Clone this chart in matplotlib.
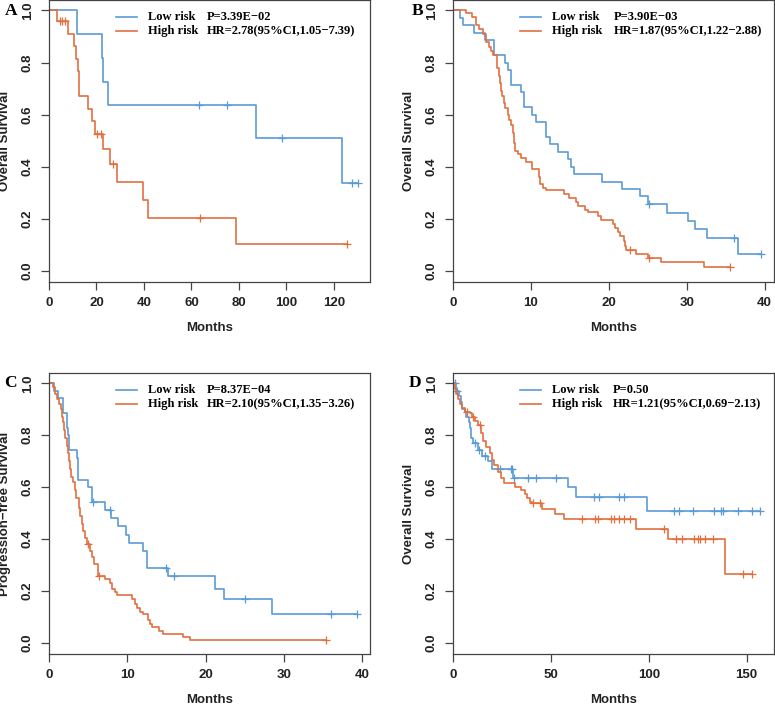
import matplotlib
matplotlib.use('Agg')
import matplotlib.pyplot as plt
import numpy as np

# ---- data ----
# A: overall survival
A_low_t = [11.9, 22.2, 22.6, 25.0, 87.0, 123.6]
A_low_s = [0.909, 0.818, 0.727, 0.636, 0.509, 0.339]
A_low_c = [63.0, 75.0, 98.0, 127.6, 130.2]
A_high_t = [3.2, 8.1, 10.5, 11.4, 12.1, 12.8, 16.6, 18.0, 19.4, 22.9, 25.7, 28.5, 39.8, 41.9, 78.8]
A_high_s = [0.959, 0.91, 0.862, 0.815, 0.767, 0.67, 0.622, 0.575, 0.527, 0.467, 0.41, 0.341, 0.273, 0.205, 0.102]
A_high_c = [4.6, 5.6, 6.7, 20.2, 22.0, 27.0, 63.4, 125.5]

# B: overall survival
B_low_t = [0.9, 1.3, 2.7, 4.1, 5.2, 6.7, 7.0, 7.4, 8.7, 9.1, 10.1, 10.7, 11.9, 12.5, 13.5, 14.7,
           15.1, 15.5, 19.1, 21.7, 24.0, 25.0, 27.5, 30.2, 31.1, 32.6, 36.6]
B_low_s = [0.971, 0.943, 0.914, 0.886, 0.829, 0.8, 0.771, 0.714, 0.686, 0.629, 0.6, 0.571, 0.514, 0.486,
           0.457, 0.429, 0.4, 0.371, 0.343, 0.314, 0.286, 0.257, 0.224, 0.192, 0.16, 0.128, 0.064]
B_low_c = [25.2, 36.1, 39.5]
B_high_t = [1.7, 2.4, 3.0, 3.4, 3.85, 4.3, 4.6, 4.9, 5.1, 5.6, 5.7, 5.9, 6.0, 6.1, 6.3, 6.5, 6.7, 7.0,
            7.2, 7.5, 7.7, 7.8, 8.0, 8.3, 8.7, 9.4, 10.1, 11.0, 11.2, 11.6, 11.9, 14.3, 14.9, 15.8, 16.0,
            16.9, 17.3, 18.6, 19.0, 20.5, 20.8, 21.2, 21.4, 21.9, 22.1, 22.2, 23.5, 25.0, 26.7, 32.2]
B_high_s = [0.99, 0.975, 0.943, 0.927, 0.91, 0.88, 0.86, 0.845, 0.83, 0.81, 0.78, 0.75, 0.72, 0.69, 0.67,
            0.645, 0.625, 0.6, 0.58, 0.56, 0.53, 0.49, 0.46, 0.45, 0.435, 0.42, 0.39, 0.36, 0.335, 0.32,
            0.31, 0.295, 0.28, 0.265, 0.25, 0.235, 0.225, 0.21, 0.195, 0.18, 0.165, 0.15, 0.135, 0.115,
            0.095, 0.08, 0.065, 0.05, 0.033, 0.016]
B_high_c = [22.7, 25.2, 35.6]

# C: progression-free survival
C_low_t = [0.7, 1.2, 1.75, 2.25, 2.45, 2.6, 3.55, 3.65, 5.0, 5.5, 7.15, 7.9, 8.85, 9.8, 10.25, 11.95,
           12.5, 15.2, 21.2, 22.3, 28.5]
C_low_s = [0.971, 0.943, 0.886, 0.829, 0.8, 0.743, 0.714, 0.629, 0.6, 0.543, 0.514, 0.48, 0.45, 0.418,
           0.386, 0.354, 0.289, 0.257, 0.21, 0.169, 0.113]
C_low_c = [5.6, 7.8, 15.0, 16.0, 25.1, 36.0, 39.4]
C_high_t = [0.47, 0.77, 1.0, 1.3, 1.5, 1.6, 1.75, 1.9, 2.1, 2.25, 2.4, 2.5, 2.7, 2.8, 3.1, 3.3, 3.5, 3.8,
            3.95, 4.2, 4.4, 4.6, 4.9, 5.2, 5.5, 5.8, 6.2, 6.3, 7.15, 7.8, 8.1, 8.4, 8.65, 10.55, 11.0,
            11.3, 11.6, 12.0, 12.6, 12.9, 13.2, 14.1, 14.6, 17.1, 18.0]
C_high_s = [0.985, 0.96, 0.94, 0.92, 0.9, 0.87, 0.85, 0.82, 0.79, 0.76, 0.73, 0.7, 0.67, 0.64, 0.62, 0.59,
            0.56, 0.52, 0.49, 0.46, 0.43, 0.405, 0.38, 0.355, 0.33, 0.305, 0.28, 0.26, 0.245, 0.23, 0.21,
            0.195, 0.185, 0.17, 0.15, 0.135, 0.12, 0.11, 0.09, 0.075, 0.06, 0.048, 0.035, 0.024, 0.012]
C_high_c = [5.0, 6.4, 35.4]

# D: overall survival
D_low_t = [1.7, 2.9, 3.9, 4.6, 6.0, 6.8, 8.0, 8.7, 9.4, 10.2, 12.8, 15.0, 17.9, 19.9, 30.6, 58.7, 62.9, 99.0]
D_low_s = [0.97, 0.95, 0.93, 0.9, 0.89, 0.87, 0.85, 0.83, 0.79, 0.77, 0.745, 0.72, 0.70, 0.67, 0.636,
           0.6, 0.563, 0.507]
D_low_c = [1.0, 2.2, 11.0, 13.2, 16.2, 23.8, 29.4, 30.3, 31.1, 38.3, 42.5, 52.7, 72.0, 74.8, 85.0, 87.6,
           112.8, 115.6, 122.4, 133.5, 136.9, 137.8, 145.4, 153.0, 157.0]
D_high_t = [0.85, 1.7, 2.6, 3.4, 4.6, 6.0, 8.5, 9.7, 11.4, 12.8, 14.5, 15.3, 17.0, 18.7, 19.9, 20.9,
            23.0, 24.7, 26.0, 31.8, 34.5, 36.6, 37.9, 39.5, 40.5, 45.4, 52.2, 56.6, 93.5, 109.7, 139.0]
D_high_s = [0.98, 0.96, 0.94, 0.92, 0.905, 0.89, 0.885, 0.87, 0.855, 0.84, 0.81, 0.78, 0.755, 0.73,
            0.705, 0.685, 0.66, 0.635, 0.615, 0.6, 0.59, 0.575, 0.56, 0.545, 0.54, 0.515, 0.497, 0.477,
            0.44, 0.4, 0.267]
D_high_c = [7.2, 10.2, 13.6, 41.0, 44.5, 66.0, 72.3, 74.0, 80.8, 82.5, 85.0, 87.6, 90.6, 108.0, 114.0,
            117.0, 123.3, 125.0, 126.4, 128.7, 133.0, 148.0, 153.0]

panels = ['A', 'B', 'C', 'D']
ylabels = ['Overall Survival', 'Overall Survival', 'Progression\u2212free Survival', 'Overall Survival']
p_text = ['P=3.39E\u221202', 'P=3.90E\u221203', 'P=8.37E\u221204', 'P=0.50']
hr_text = ['HR=2.78(95%CI,1.05\u22127.39)', 'HR=1.87(95%CI,1.22\u22122.88)',
           'HR=2.10(95%CI,1.35\u22123.26)', 'HR=1.21(95%CI,0.69\u22122.13)']
xmax = [135.2, 41.2, 41.0, 164.0]
xticks = [[0, 20, 40, 60, 80, 100, 120], [0, 10, 20, 30, 40], [0, 10, 20, 30, 40], [0, 50, 100, 150]]
curves = [
    (A_low_t, A_low_s, A_low_c, A_high_t, A_high_s, A_high_c),
    (B_low_t, B_low_s, B_low_c, B_high_t, B_high_s, B_high_c),
    (C_low_t, C_low_s, C_low_c, C_high_t, C_high_s, C_high_c),
    (D_low_t, D_low_s, D_low_c, D_high_t, D_high_s, D_high_c),
]

blue = '#5B9BD5'
orange = '#E2703F'
sans = 'Liberation Sans'
serif = 'Liberation Serif'


def km(ax, t, s, cens, color):
    end = max(max(t), max(cens))
    tt = np.array([0.0] + list(t) + [end])
    ss = np.array([1.0] + list(s) + [s[-1]])
    ax.step(tt, ss, where='post', color=color, lw=1.2)
    idx = np.searchsorted(tt, cens, side='right') - 1
    ax.plot(cens, ss[idx], '+', color=color, ms=6, mew=0.9)


fig = plt.figure(figsize=(7.75, 7.06), dpi=100)
positions = [[0.0632, 0.6006, 0.4142, 0.3994], [0.5845, 0.6006, 0.4142, 0.3994],
             [0.0632, 0.0737, 0.4142, 0.398], [0.5845, 0.0737, 0.4142, 0.398]]
label_xy = [(0.014, 0.984), (0.539, 0.984), (0.014, 0.458), (0.535, 0.458)]
stat_x = [0.493, 0.50, 0.493, 0.498]

for i in range(4):
    ax = fig.add_axes(positions[i])
    lt, ls, lc, ht, hs, hc = curves[i]
    km(ax, lt, ls, lc, blue)
    km(ax, ht, hs, hc, orange)
    ax.set_xlim(0, xmax[i])
    ax.set_ylim(-0.042, 1.04)
    ax.set_xticks(xticks[i])
    ax.set_yticks([0.0, 0.2, 0.4, 0.6, 0.8, 1.0])
    ax.set_yticklabels(['0.0', '0.2', '0.4', '0.6', '0.8', '1.0'], rotation=90, va='center')
    ax.tick_params(direction='out', length=6, width=0.9, color='#444444', pad=5,
                   labelsize=9.5)
    for lab in ax.get_xticklabels() + ax.get_yticklabels():
        lab.set_fontfamily(sans)
        lab.set_fontweight('bold')
        lab.set_color('#222222')
    for sp in ax.spines.values():
        sp.set_color('#444444')
        sp.set_linewidth(0.9)
    ax.set_xlabel('Months', fontsize=9.5, fontweight='bold', family=sans, color='#222222')
    ax.set_ylabel(ylabels[i], fontsize=9.5, fontweight='bold', family=sans, color='#222222')
    ax.xaxis.set_label_coords(0.5, -0.142)
    ax.yaxis.set_label_coords(-0.118, 0.5)

    # legend block (R-style, two columns)
    for row, col, name, stat in [(0.94, blue, 'Low risk', p_text[i]),
                                 (0.89, orange, 'High risk', hr_text[i])]:
        ax.plot([0.21, 0.275], [row, row], color=col, lw=1.2, transform=ax.transAxes)
        ax.text(0.307, row, name, transform=ax.transAxes, va='center', ha='left',
                fontsize=9, fontweight='bold', family=serif)
        ax.text(stat_x[i], row, stat, transform=ax.transAxes, va='center', ha='left',
                fontsize=9, fontweight='bold', family=serif)

    fig.text(label_xy[i][0], label_xy[i][1], panels[i], fontsize=12.5, fontweight='bold',
             family=serif, va='center', ha='center')

fig.savefig('out.png', dpi=100)
